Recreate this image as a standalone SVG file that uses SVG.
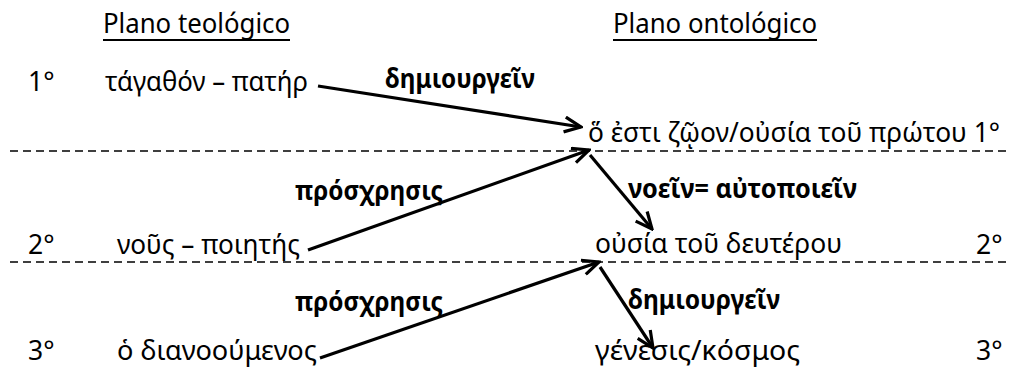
<svg xmlns="http://www.w3.org/2000/svg" width="1011" height="371" viewBox="0 0 1011 371">
  <style>
    text { font-family: "Noto Sans", "DejaVu Sans", sans-serif; font-size: 26.5px; fill: #000; }
    .b { font-weight: bold; }
    .level { stroke: #000; stroke-width: 1.5; stroke-dasharray: 8 5; fill: none; }
    .arrow { stroke: #000; stroke-width: 3.2; fill: none; marker-end: url(#head); }
    .ul { stroke: #000; stroke-width: 2; }
  </style>
  <defs>
    <marker id="head" viewBox="0 0 20 18" refX="18" refY="9" markerWidth="20" markerHeight="18" markerUnits="userSpaceOnUse" orient="auto">
      <path d="M1.5,1.5 L18,9 L1.5,16.5" fill="none" stroke="#000" stroke-width="3.2" stroke-linejoin="miter"/>
    </marker>
  </defs>

  <rect width="1011" height="371" fill="#fff"/>

  <!-- column headings -->
  <g id="heading-theological">
    <text x="103" y="33" textLength="187" lengthAdjust="spacingAndGlyphs">Plano teológico</text>
    <line class="ul" x1="103" y1="40" x2="290" y2="40"/>
  </g>
  <g id="heading-ontological">
    <text x="613" y="33" textLength="204" lengthAdjust="spacingAndGlyphs">Plano ontológico</text>
    <line class="ul" x1="613" y1="40" x2="817" y2="40"/>
  </g>

  <!-- level separators -->
  <g id="levels">
    <line class="level" x1="10" y1="151" x2="1011" y2="151"/>
    <line class="level" x1="10" y1="262" x2="1011" y2="262"/>
  </g>

  <!-- level numbers -->
  <g id="level-numbers">
    <text x="28" y="91">1°</text>
    <text x="28" y="254">2°</text>
    <text x="28" y="360">3°</text>
    <text x="976" y="254">2°</text>
    <text x="976" y="360">3°</text>
  </g>

  <!-- theological plane -->
  <g id="node-agathon">
    <text x="105" y="91" textLength="203" lengthAdjust="spacingAndGlyphs">τάγαθόν – πατήρ</text>
  </g>
  <g id="node-nous">
    <text x="117" y="254" textLength="183" lengthAdjust="spacingAndGlyphs">νοῦς – ποιητής</text>
  </g>
  <g id="node-dianooumenos">
    <text x="117" y="360" textLength="200" lengthAdjust="spacingAndGlyphs">ὁ διανοούμενος</text>
  </g>

  <!-- ontological plane -->
  <g id="node-zoon">
    <text x="588" y="142" textLength="412" lengthAdjust="spacingAndGlyphs">ὅ ἐστι ζῷον/οὐσία τοῦ πρώτου 1°</text>
  </g>
  <g id="node-ousia">
    <text x="595" y="253" textLength="247" lengthAdjust="spacingAndGlyphs">οὐσία τοῦ δευτέρου</text>
  </g>
  <g id="node-genesis">
    <text x="595" y="360" textLength="205" lengthAdjust="spacingAndGlyphs">γένεσις/κόσμος</text>
  </g>

  <!-- connectors -->
  <g id="connectors">
    <line class="arrow" x1="318" y1="86" x2="581" y2="127"/>
    <line class="arrow" x1="308" y1="250" x2="589" y2="150"/>
    <line class="arrow" x1="590" y1="155" x2="652" y2="229"/>
    <line class="arrow" x1="320" y1="358" x2="599" y2="262"/>
    <line class="arrow" x1="600" y1="267" x2="653" y2="348"/>
  </g>

  <!-- connector labels -->
  <g id="labels">
    <text class="b" x="385" y="88" textLength="150" lengthAdjust="spacingAndGlyphs">δημιουργεῖν</text>
    <text class="b" x="295" y="200" textLength="148" lengthAdjust="spacingAndGlyphs">πρόσχρησις</text>
    <text class="b" x="628" y="198" textLength="229" lengthAdjust="spacingAndGlyphs">νοεῖν= αὐτοποιεῖν</text>
    <text class="b" x="295" y="311" textLength="148" lengthAdjust="spacingAndGlyphs">πρόσχρησις</text>
    <text class="b" x="628" y="309" textLength="152" lengthAdjust="spacingAndGlyphs">δημιουργεῖν</text>
  </g>
</svg>
